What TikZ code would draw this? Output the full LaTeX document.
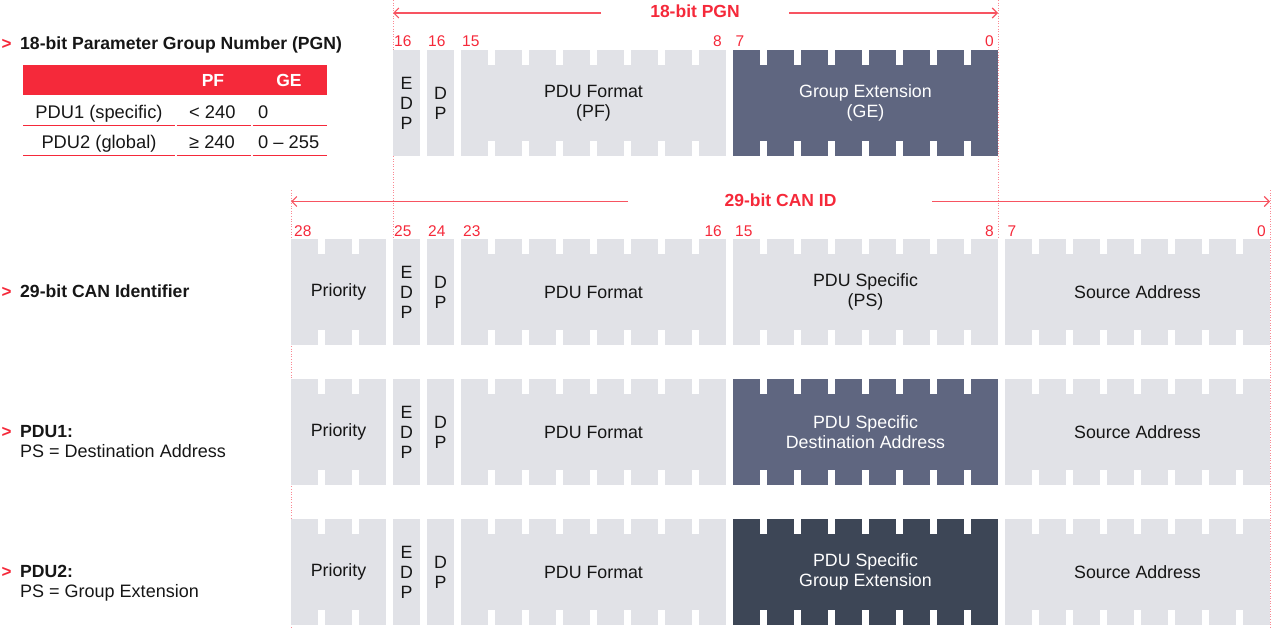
\documentclass[tikz,border=0pt]{standalone}
\usepackage{fontspec}
\setmainfont{Liberation Sans}
\usetikzlibrary{arrows.meta}
\definecolor{jred}{HTML}{F5293A}
\definecolor{cellgrey}{HTML}{E1E2E7}
\definecolor{slate}{HTML}{5F6680}
\definecolor{darkslate}{HTML}{3D4656}
\definecolor{txt}{HTML}{161616}
\tikzset{
  fieldbox/.style={fill=cellgrey, minimum height=106pt, inner sep=0pt, outer sep=0pt,
    text=txt, align=center, font=\fontsize{17.8}{20}\selectfont},
  ge/.style={fill=slate, text=white},
  gedark/.style={fill=darkslate, text=white},
  bitnum/.style={text=jred, font=\fontsize{15.5}{16}\selectfont, inner sep=0pt},
  guide/.style={draw=jred!55, line width=0.8pt, dash pattern=on 1pt off 1.6pt},
  arr/.style={draw=jred!80, line width=1.1pt, -{Straight Barb[length=5pt,width=10pt,line width=1.1pt]}},
  spantitle/.style={text=jred, font=\bfseries\fontsize{17.5}{18}\selectfont, inner sep=0pt},
  lefthead/.style={text=txt, font=\bfseries\fontsize{17.6}{20}\selectfont, inner sep=0pt, anchor=base west},
  leftsub/.style={text=txt, font=\fontsize{18}{20}\selectfont, inner sep=0pt, anchor=base west},
  chev/.style={text=jred, font=\bfseries\fontsize{17}{17}\selectfont, inner sep=0pt, anchor=base west},
  tabtxt/.style={text=txt, font=\fontsize{18.3}{20}\selectfont, inner sep=0pt},
  tabhead/.style={text=white, font=\bfseries\fontsize{17.5}{20}\selectfont, inner sep=0pt, anchor=base},
  tabline/.style={draw=jred, line width=1.2pt},
}
\newcommand\fld[6]{%
  \pgfmathsetmacro\fw{34*#4-7}%
  \pgfmathsetmacro\fcx{#2+\fw/2}%
  \pgfmathsetmacro\fcy{#3+53}%
  \node[fieldbox,#5,minimum width=\fw pt] (#1) at (\fcx,\fcy) {#6};%
  \ifnum#4>1
    \pgfmathtruncatemacro\nn{#4-1}%
    \foreach \k in {1,...,\nn}{%
      \fill[white] ({#2+34*\k-7},{#3-1}) rectangle ({#2+34*\k},{#3+15});
      \fill[white] ({#2+34*\k-7},{#3+91}) rectangle ({#2+34*\k},{#3+107});
    }%
  \fi
}
\begin{document}
\begin{tikzpicture}[x=1pt,y=-1pt]
\useasboundingbox (0,0) rectangle (1273,629);
% guides
\draw[guide] (393,0) -- (393,239);
\draw[guide] (998,0) -- (998,239);
\draw[guide] (291,190) -- (291,629);
\draw[guide] (1270,190) -- (1270,629);

% ---- span titles and arrows
\node[spantitle, anchor=base] (pgnt) at (695,17.5) {18-bit PGN};
\coordinate (pgnLs) at (601,13); \coordinate (pgnLe) at (393,13);
\coordinate (pgnRs) at (789,13); \coordinate (pgnRe) at (998,13);
\draw[arr] (pgnLs) -- (pgnLe);
\draw[arr] (pgnRs) -- (pgnRe);

\node[spantitle, anchor=base] (cant) at (780.5,206) {29-bit CAN ID};
\coordinate (canLs) at (628,201.5); \coordinate (canLe) at (291,201.5);
\coordinate (canRs) at (932,201.5); \coordinate (canRe) at (1270,201.5);
\draw[arr] (canLs) -- (canLe);
\draw[arr] (canRs) -- (canRe);

% ---- row 1: PGN
\fld{r1edp}{393}{50}{1}{}{E\\D\\P}
\fld{r1dp}{427}{50}{1}{}{D\\P}
\fld{r1pf}{461}{50}{8}{}{PDU Format\\(PF)}
\fld{r1ge}{733}{50}{8}{ge}{Group Extension\\(GE)}
\node[bitnum, anchor=base west] (n1a) at (394,46.5) {16};
\node[bitnum, anchor=base west] (n1b) at (428,46.5) {16};
\node[bitnum, anchor=base west] (n1c) at (462,46.5) {15};
\node[bitnum, anchor=base east] (n1d) at (722,46.5) {8};
\node[bitnum, anchor=base west] (n1e) at (735.5,46.5) {7};
\node[bitnum, anchor=base east] (n1f) at (994,46.5) {0};

% ---- row 2: CAN ID
\fld{r2pri}{291}{239}{3}{}{Priority}
\fld{r2edp}{393}{239}{1}{}{E\\D\\P}
\fld{r2dp}{427}{239}{1}{}{D\\P}
\fld{r2pf}{461}{239}{8}{}{PDU Format}
\fld{r2ps}{733}{239}{8}{}{PDU Specific\\(PS)}
\fld{r2sa}{1005}{239}{8}{}{Source Address}
\node[bitnum, anchor=base west] (n2a) at (294,236) {28};
\node[bitnum, anchor=base west] (n2b) at (394,236) {25};
\node[bitnum, anchor=base west] (n2c) at (428,236) {24};
\node[bitnum, anchor=base west] (n2d) at (463,236) {23};
\node[bitnum, anchor=base east] (n2e) at (722,236) {16};
\node[bitnum, anchor=base west] (n2f) at (735,236) {15};
\node[bitnum, anchor=base east] (n2g) at (994,236) {8};
\node[bitnum, anchor=base west] (n2h) at (1007.5,236) {7};
\node[bitnum, anchor=base east] (n2i) at (1266,236) {0};

% ---- row 3: PDU1
\fld{r3pri}{291}{379}{3}{}{Priority}
\fld{r3edp}{393}{379}{1}{}{E\\D\\P}
\fld{r3dp}{427}{379}{1}{}{D\\P}
\fld{r3pf}{461}{379}{8}{}{PDU Format}
\fld{r3ps}{733}{379}{8}{ge}{PDU Specific\\Destination Address}
\fld{r3sa}{1005}{379}{8}{}{Source Address}

% ---- row 4: PDU2
\fld{r4pri}{291}{519}{3}{}{Priority}
\fld{r4edp}{393}{519}{1}{}{E\\D\\P}
\fld{r4dp}{427}{519}{1}{}{D\\P}
\fld{r4pf}{461}{519}{8}{}{PDU Format}
\fld{r4ps}{733}{519}{8}{gedark}{PDU Specific\\Group Extension}
\fld{r4sa}{1005}{519}{8}{}{Source Address}

% ---- left labels
\node[chev] (c1) at (1.5,49) {>};
\node[lefthead] (h1) at (20,49) {18-bit Parameter Group Number (PGN)};
\node[chev] (c2) at (1.5,297) {>};
\node[lefthead] (h2) at (20,297) {29-bit CAN Identifier};
\node[chev] (c3) at (1.5,437) {>};
\node[lefthead] (h3) at (20,437) {PDU1:};
\node[leftsub] (s3) at (20,457) {PS = Destination Address};
\node[chev] (c4) at (1.5,577) {>};
\node[lefthead] (h4) at (20,577) {PDU2:};
\node[leftsub] (s4) at (20,597) {PS = Group Extension};

% ---- table
\node[fill=jred, minimum width=304pt, minimum height=30pt, inner sep=0pt] (thead) at (175,80) {};
\node[tabhead] (thpf) at (213,86) {PF};
\node[tabhead] (thge) at (289,86) {GE};
\node[tabtxt, anchor=base] (t11) at (99,118.5) {PDU1 (specific)};
\node[tabtxt, anchor=base west] (t12) at (189,118.5) {< 240};
\node[tabtxt, anchor=base west] (t13) at (258,118.5) {0};
\node[tabtxt, anchor=base] (t21) at (99,148) {PDU2 (global)};
\node[tabtxt, anchor=base west] (t22) at (189,148) {≥ 240};
\node[tabtxt, anchor=base west] (t23) at (258,148) {0 – 255};
\draw[tabline] (23,125.5) -- (175,125.5) (176.5,125.5) -- (251,125.5) (252.5,125.5) -- (327,125.5);
\draw[tabline] (23,155.5) -- (175,155.5) (176.5,155.5) -- (251,155.5) (252.5,155.5) -- (327,155.5);
\end{tikzpicture}
\end{document}
